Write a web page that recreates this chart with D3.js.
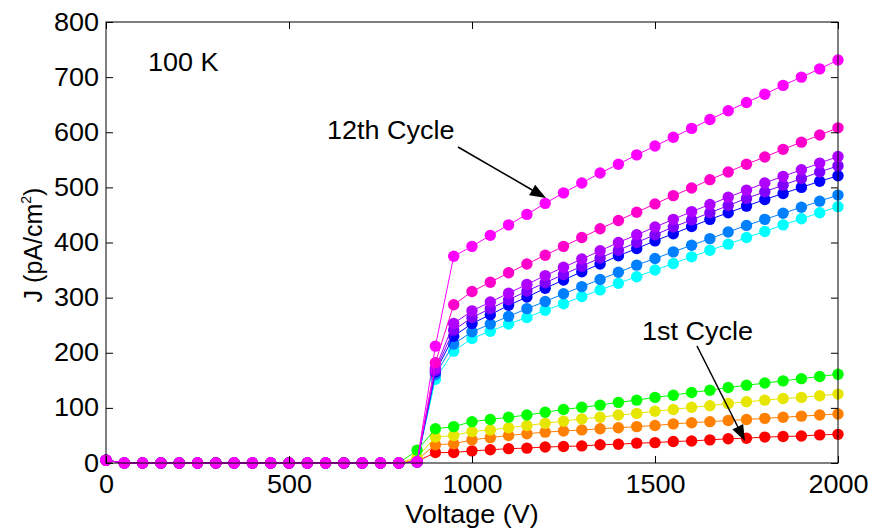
<!DOCTYPE html>
<html>
<head>
<meta charset="utf-8">
<script src="https://cdn.jsdelivr.net/npm/d3@7"></script>
<style>
  body { margin: 0; background: #fff; }
  svg { display: block; font-family: "Liberation Sans", Arial, sans-serif; }
</style>
</head>
<body>
<svg id="chart" width="872" height="529"></svg>
<script>
// Voltage steps (V)
const voltage = d3.range(0, 2001, 50);

// Current density J (pA/cm^2) for each voltage cycle, 0 V .. 2000 V in 50 V steps
const flat = [0,0,0,0,0,0,0,0,0,0,0,0,0,0,0,0]; // 50 .. 800 V
const cycle1  = [5, ...flat, 3, 19, 19, 22, 24, 26, 27, 29, 30, 31, 33, 34, 36, 37, 39, 40, 42, 44, 45, 47, 48, 49, 51, 52];
const cycle2  = [5, ...flat, 6, 33, 35, 42, 46, 50, 53, 56, 58, 60, 62, 64, 66, 68, 71, 73, 75, 77, 79, 81, 83, 85, 87, 89];
const cycle3  = [5, ...flat, 10, 47, 50, 57, 60, 64, 68, 72, 76, 80, 83, 87, 90, 94, 97, 101, 104, 108, 111, 114, 117, 119, 122, 125];
const cycle4  = [5, ...flat, 23, 62, 66, 75, 79, 83, 87, 92, 97, 101, 105, 110, 114, 119, 123, 128, 132, 137, 141, 145, 149, 153, 157, 161];
const cycle5  = [5, ...flat, 2, 152, 203, 226, 239, 252, 264, 277, 289, 302, 314, 326, 338, 350, 362, 374, 386, 397, 409, 420, 432, 443, 454, 465];
const cycle6  = [5, ...flat, 2, 160, 216, 238, 252, 266, 280, 293, 307, 320, 333, 346, 359, 371, 383, 395, 407, 419, 431, 442, 453, 464, 475, 486];
const cycle7  = [5, ...flat, 2, 165, 230, 253, 269, 286, 301, 317, 332, 347, 361, 376, 389, 403, 416, 429, 442, 454, 466, 478, 489, 500, 511, 521];
const cycle8  = [5, ...flat, 2, 168, 241, 264, 280, 296, 312, 327, 342, 357, 372, 386, 400, 414, 428, 441, 454, 467, 480, 492, 504, 516, 528, 539];
const cycle9  = [5, ...flat, 2, 172, 253, 276, 292, 308, 324, 340, 355, 370, 385, 400, 414, 428, 442, 456, 469, 482, 495, 508, 520, 532, 544, 556];
const cycle10 = [5, ...flat, 2, 182, 287, 311, 328, 345, 361, 377, 393, 409, 425, 440, 455, 470, 485, 499, 514, 528, 542, 555, 569, 582, 595, 608];
const cycle11 = [5, ...flat, 2, 212, 375, 393, 413, 432, 451, 471, 490, 508, 526, 542, 559, 575, 591, 607, 623, 639, 654, 669, 685, 700, 715, 731];

const seriesValues = [cycle1, cycle2, cycle3, cycle4, cycle5, cycle6, cycle7, cycle8, cycle9, cycle10, cycle11];
const seriesColors = ["#ff0000", "#ff8000", "#e6e600", "#00ff00", "#00ffff", "#0080ff",
                      "#0000ff", "#8000ff", "#b000ff", "#ff00cc", "#ff00ff"];

const xTicks = [0, 500, 1000, 1500, 2000];
const yTicks = [0, 100, 200, 300, 400, 500, 600, 700, 800];

const svg = d3.select("#chart");
const plotLeft = 106, plotRight = 838, plotTop = 22, plotBottom = 463;

const x = d3.scaleLinear().domain([0, 2000]).range([plotLeft, plotRight]);
const y = d3.scaleLinear().domain([0, 800]).range([plotBottom, plotTop]);

const fontSize = 25;
const stretch = 1.08; // glyphs are a little wider than plain Arial

// series: thin connecting line plus filled round markers
const line = d3.line().x(d => x(d[0])).y(d => y(d[1]));
seriesValues.forEach((vals, i) => {
  const pts = voltage.map((v, k) => [v, vals[k]]);
  const g = svg.append("g");
  g.append("path").attr("d", line(pts)).attr("fill", "none")
    .attr("stroke", seriesColors[i]).attr("stroke-width", 1);
  g.selectAll("circle").data(pts).join("circle")
    .attr("cx", d => x(d[0])).attr("cy", d => y(d[1])).attr("r", 5.7)
    .attr("fill", seriesColors[i]);
});

// axes with inward ticks on all four sides
const axisStyle = g => {
  g.select(".domain").remove();
  g.selectAll("line").attr("stroke", "#000");
  g.selectAll("text").attr("fill", "#000").style("font-size", fontSize + "px");
};
const fmt = d3.format("d");
svg.append("g").attr("transform", `translate(0,${plotBottom})`)
  .call(d3.axisBottom(x).tickValues(xTicks).tickFormat(fmt).tickSizeInner(-7).tickSizeOuter(0).tickPadding(12))
  .call(axisStyle)
  .selectAll("text").attr("transform", `scale(${stretch},1)`);
svg.append("g").attr("transform", `translate(0,${plotTop})`)
  .call(d3.axisTop(x).tickValues(xTicks).tickSizeInner(-7).tickSizeOuter(0).tickFormat(""))
  .call(axisStyle);
svg.append("g").attr("transform", `translate(${plotLeft},0)`)
  .call(d3.axisLeft(y).tickValues(yTicks).tickFormat(fmt).tickSizeInner(-7).tickSizeOuter(0).tickPadding(7))
  .call(axisStyle)
  .selectAll("text").attr("transform", `scale(${stretch},1)`).attr("x", -7 / stretch);
svg.append("g").attr("transform", `translate(${plotRight},0)`)
  .call(d3.axisRight(y).tickValues(yTicks).tickSizeInner(-7).tickSizeOuter(0).tickFormat(""))
  .call(axisStyle);

svg.append("rect").attr("x", plotLeft).attr("y", plotTop)
  .attr("width", plotRight - plotLeft).attr("height", plotBottom - plotTop)
  .attr("fill", "none").attr("stroke", "#000").attr("stroke-width", 1);

// plain text helper with the same horizontal stretch
function label(tx, ty, str, anchor) {
  return svg.append("text")
    .attr("transform", `translate(${tx},${ty}) scale(${stretch},1)`)
    .attr("text-anchor", anchor || "start")
    .style("font-size", fontSize + "px").text(str);
}

// axis titles
label((plotLeft + plotRight) / 2, 523, "Voltage (V)", "middle");
const yt = svg.append("text").attr("transform", "translate(42,245) rotate(-90)")
  .attr("text-anchor", "middle").style("font-size", fontSize + "px");
yt.append("tspan").text("J (pA/cm");
yt.append("tspan").attr("dy", -11).style("font-size", "14px").text("2");
yt.append("tspan").attr("dy", 11).text(")");

// annotations
label(148, 71, "100 K");
label(327, 139, "12th Cycle");
label(642, 340, "1st Cycle");

function arrow(x1, y1, x2, y2) {
  const a = Math.atan2(y2 - y1, x2 - x1), len = 16, w = 6;
  const bx = x2 - len * Math.cos(a), by = y2 - len * Math.sin(a);
  svg.append("line").attr("x1", x1).attr("y1", y1).attr("x2", bx).attr("y2", by)
    .attr("stroke", "#000").attr("stroke-width", 1.5);
  svg.append("path").attr("d", d3.line()([
    [x2, y2],
    [bx + w * Math.sin(a), by - w * Math.cos(a)],
    [bx - w * Math.sin(a), by + w * Math.cos(a)]
  ]) + "Z").attr("fill", "#000");
}
arrow(458, 147, 546, 198);
arrow(697, 346, 745, 441);
</script>
</body>
</html>
